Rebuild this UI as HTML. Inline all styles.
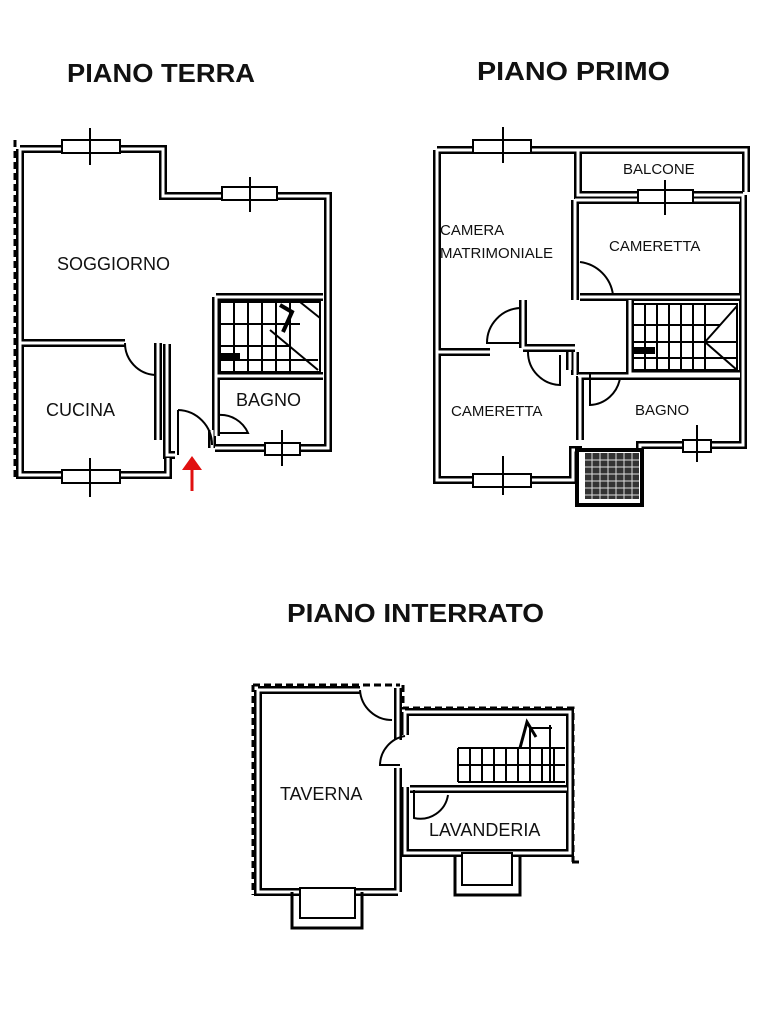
<!DOCTYPE html>
<html><head><meta charset="utf-8"><style>
html,body{margin:0;padding:0;background:#fff;}
svg{display:block;}
text{font-family:"Liberation Sans",sans-serif;fill:#111;}
.t{font-weight:bold;font-size:26px;}
.r{font-size:18px;}
.rs{font-size:15px;}
.wb{fill:none;stroke:#000;stroke-width:8;stroke-linejoin:miter;}
.ww{fill:none;stroke:#fff;stroke-width:3;stroke-linejoin:miter;}
.th{fill:none;stroke:#000;stroke-width:2;}
.ds{fill:none;stroke:#000;stroke-width:3;stroke-dasharray:7 4;}
</style></head><body>
<svg width="768" height="1024" viewBox="0 0 768 1024" xmlns="http://www.w3.org/2000/svg">
<defs>
<path id="g1" d="M20,149 H163 V196 H328 V448 H215 M20,149 V475 H168 V458 M20,343 H125 M158,343 V440 M167,344 V455 H175 M212,430 V448 M216,297 H323 M216,297 V376 H323 M216,376 V436"/>
<path id="g2" d="M437,150 H578 M437,150 V480 H573 V450 H578 V470 H640 V445 H743 V195 M578,150 V195 H743 M578,150 H746 V192 M575,200 V300 M575,200 H740 M580,297 H740 M630,300 V374 H740 M578,376 H740 M580,376 V440 M437,352 H490 M523,348 H575 M570,352 V370 M523,348 V300 M575,352 V375"/>
<path id="g3" d="M258,690 H360 M398,688 V740 M398,768 V892 M258,690 V892 H398 M405,712 H570 V853 H405 V787 M405,712 V735 M410,789 H567"/>
</defs>

<text class="t" x="67" y="82" textLength="188" lengthAdjust="spacingAndGlyphs">PIANO TERRA</text>
<text class="t" x="477" y="80" textLength="193" lengthAdjust="spacingAndGlyphs">PIANO PRIMO</text>
<text class="t" x="287" y="622" textLength="257" lengthAdjust="spacingAndGlyphs">PIANO INTERRATO</text>

<!-- GROUND FLOOR -->
<line class="ds" x1="15" y1="140" x2="15" y2="480"/>
<use href="#g1" class="wb"/><use href="#g1" class="ww"/>
<rect x="62" y="140" width="58" height="13" fill="#fff" stroke="#000" stroke-width="2"/>
<line class="th" x1="90" y1="128" x2="90" y2="165"/>
<rect x="222" y="187" width="55" height="13" fill="#fff" stroke="#000" stroke-width="2"/>
<line class="th" x1="250" y1="177" x2="250" y2="212"/>
<rect x="62" y="470" width="58" height="13" fill="#fff" stroke="#000" stroke-width="2"/>
<line class="th" x1="90" y1="458" x2="90" y2="497"/>
<rect x="265" y="443" width="35" height="12" fill="#fff" stroke="#000" stroke-width="2"/>
<line class="th" x1="282" y1="430" x2="282" y2="466"/>
<path class="th" d="M125,343 A32,32 0 0 0 155,375"/>
<path class="th" d="M178,410 A35,35 0 0 1 212,445 M178,410 V455"/>
<path class="th" d="M218,415 A30,30 0 0 1 248,433 H220"/>
<g stroke="#000" stroke-width="2" fill="none">
<path d="M220,302 H320 V372 H220 Z"/>
<path d="M220,324 H300 M220,346 H290 M220,360 H318"/>
<path d="M234,302 V372 M248,302 V372 M262,302 V372 M276,302 V372 M290,302 V372"/>
<path d="M300,302 L320,318 M270,330 L318,370"/>
</g>
<rect x="220" y="353" width="20" height="7" fill="#000"/>
<path d="M280,305 L292,312 L283,332" stroke="#000" stroke-width="4" fill="none"/>
<path d="M192,491 V462" stroke="#e01010" stroke-width="3"/>
<polygon points="182,470 192,456 202,470" fill="#e01010"/>
<text class="r" x="57" y="270">SOGGIORNO</text>
<text class="r" x="46" y="416">CUCINA</text>
<text class="r" x="236" y="406">BAGNO</text>

<!-- FIRST FLOOR -->
<use href="#g2" class="wb"/><use href="#g2" class="ww"/>
<rect x="473" y="140" width="58" height="13" fill="#fff" stroke="#000" stroke-width="2"/>
<line class="th" x1="503" y1="127" x2="503" y2="163"/>
<rect x="638" y="190" width="55" height="13" fill="#fff" stroke="#000" stroke-width="2"/>
<line class="th" x1="665" y1="180" x2="665" y2="215"/>
<rect x="473" y="474" width="58" height="13" fill="#fff" stroke="#000" stroke-width="2"/>
<line class="th" x1="503" y1="456" x2="503" y2="495"/>
<rect x="683" y="440" width="28" height="12" fill="#fff" stroke="#000" stroke-width="2"/>
<line class="th" x1="697" y1="425" x2="697" y2="462"/>
<rect x="577" y="450" width="65" height="55" fill="#fff" stroke="#000" stroke-width="4"/>
<rect x="585" y="453" width="54" height="46" fill="#333"/>
<g stroke="#ddd" stroke-width="1">
<path d="M585,460 H639 M585,467 H639 M585,474 H639 M585,481 H639 M585,488 H639 M585,495 H639 M592,453 V499 M600,453 V499 M608,453 V499 M616,453 V499 M624,453 V499 M632,453 V499"/>
</g>
<path class="th" d="M580,262 A38,38 0 0 1 613,295"/>
<path class="th" d="M520,308 A35,35 0 0 0 487,343 H520"/>
<path class="th" d="M528,352 A33,33 0 0 0 560,385 V355"/>
<path class="th" d="M590,373 V405 A32,32 0 0 0 620,378"/>
<g stroke="#000" stroke-width="2" fill="none">
<path d="M633,304 H737 V370 H633 Z"/>
<path d="M633,325 H720 M633,342 H737 M633,358 H737"/>
<path d="M645,304 V370 M657,304 V370 M669,304 V370 M681,304 V370 M693,304 V370 M705,304 V370"/>
<path d="M737,306 L705,342 L737,370"/>
</g>
<rect x="633" y="347" width="22" height="7" fill="#000"/>
<text class="rs" x="623" y="174">BALCONE</text>
<text class="rs" x="440" y="235">CAMERA</text>
<text class="rs" x="440" y="258">MATRIMONIALE</text>
<text class="rs" x="609" y="251">CAMERETTA</text>
<text class="rs" x="451" y="416">CAMERETTA</text>
<text class="rs" x="635" y="415">BAGNO</text>

<!-- BASEMENT -->
<path class="ds" d="M253,685 H400 M253,685 V895 M403,685 V708 H573 V862 M572,862 H582"/>
<use href="#g3" class="wb"/><use href="#g3" class="ww"/>
<path d="M292,892 V928 H362 V892" fill="none" stroke="#000" stroke-width="3"/>
<rect x="300" y="888" width="55" height="30" fill="#fff" stroke="#000" stroke-width="2"/>
<path d="M455,857 V895 H520 V857" fill="none" stroke="#000" stroke-width="3"/>
<rect x="462" y="853" width="50" height="32" fill="#fff" stroke="#000" stroke-width="2"/>
<path class="th" d="M360,690 A32,32 0 0 0 392,720"/>
<path class="th" d="M405,736 A30,30 0 0 0 380,765 H400"/>
<path class="th" d="M414,790 V818 A28,28 0 0 0 448,795"/>
<g stroke="#000" stroke-width="2" fill="none">
<path d="M458,748 H565 M458,765 H565 M458,782 H565 M458,748 V782"/>
<path d="M470,748 V782 M482,748 V782 M494,748 V782 M506,748 V782 M518,748 V782 M530,748 V782 M542,748 V782 M554,748 V782"/>
<path d="M530,728 H552 M530,728 V748 M550,725 V782"/>
</g>
<path d="M520,748 L527,722 L536,737" stroke="#000" stroke-width="3" fill="none"/>
<text class="r" x="280" y="800">TAVERNA</text>
<text class="r" x="429" y="836">LAVANDERIA</text>
</svg>
</body></html>
